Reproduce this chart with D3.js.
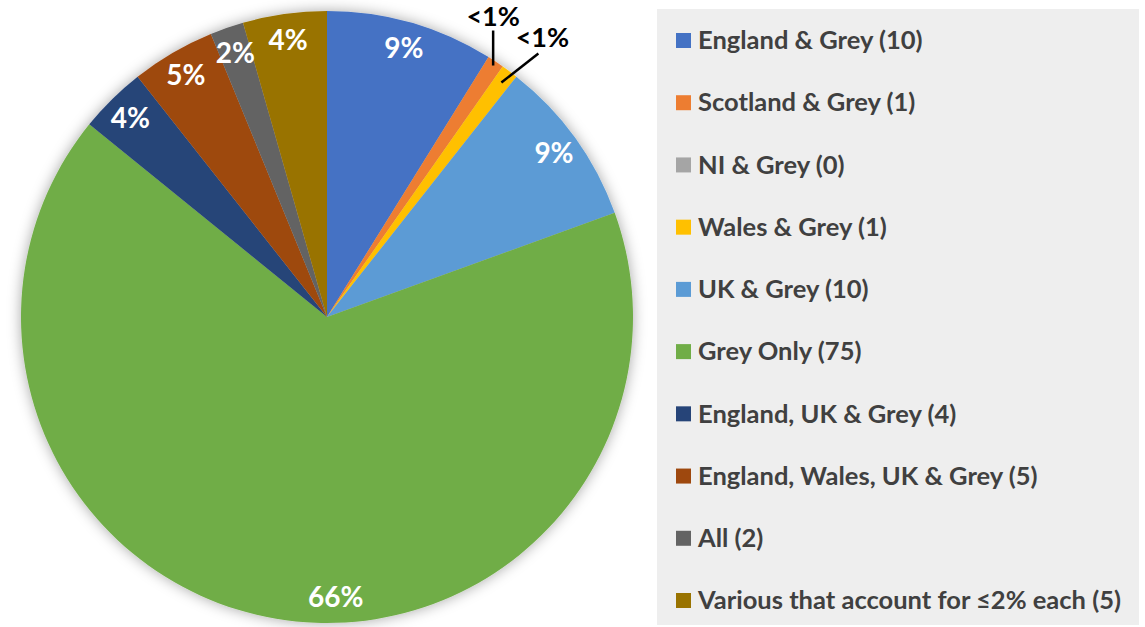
<!DOCTYPE html>
<html>
<head>
<meta charset="utf-8">
<script src="https://cdn.jsdelivr.net/npm/d3@7"></script>
<style>
  body { margin: 0; background: #ffffff; }
  svg { display: block; }
</style>
</head>
<body>
<div id="chart"></div>
<script>
// chart data
var categories = ["England & Grey", "Scotland & Grey", "NI & Grey", "Wales & Grey", "UK & Grey",
                  "Grey Only", "England, UK & Grey", "England, Wales, UK & Grey", "All",
                  "Various that account for \u22642% each"];
var counts = [10, 1, 0, 1, 10, 75, 4, 5, 2, 5];
var pctLabels = ["9%", "<1%", "", "<1%", "9%", "66%", "4%", "5%", "2%", "4%"];
var colors = ["#4472C4", "#ED7D31", "#A5A5A5", "#FFC000", "#5B9BD5",
              "#70AD47", "#264478", "#9E480E", "#636363", "#997300"];

function init() {
    var w = 1145, h = 627;
    var cx = 327, cy = 317, r = 306;
    var font = "Lato, 'Open Sans', sans-serif";

    var svg = d3.select("#chart").append("svg")
        .attr("width", w)
        .attr("height", h);

    // soft shadow round the pie
    var filter = svg.append("defs").append("filter")
        .attr("id", "shadow")
        .attr("x", "-10%").attr("y", "-10%")
        .attr("width", "120%").attr("height", "120%");
    filter.append("feDropShadow")
        .attr("dx", 0).attr("dy", 0)
        .attr("stdDeviation", 7)
        .attr("flood-color", "#000")
        .attr("flood-opacity", 0.35);

    var data = categories.map(function(c, i) {
        return { name: c, value: counts[i], label: pctLabels[i], color: colors[i] };
    });

    var pie = d3.pie()
        .sort(null)
        .value(function(d) { return d.value; });

    var arcs = pie(data);

    var arc = d3.arc().innerRadius(0).outerRadius(r);

    function polar(rad, ang) {
        return [rad * Math.sin(ang), -rad * Math.cos(ang)];
    }

    var g = svg.append("g")
        .attr("transform", "translate(" + cx + "," + cy + ")");

    g.append("g")
        .attr("filter", "url(#shadow)")
        .selectAll("path")
        .data(arcs)
        .enter().append("path")
        .attr("d", arc)
        .attr("fill", function(d) { return d.data.color; });

    // labels inside the slices (the big slice's label sits near the bottom, best fit)
    g.selectAll("text.inside")
        .data(arcs.filter(function(d) { return d.data.value >= 2; }))
        .enter().append("text")
        .attr("class", "inside")
        .attr("transform", function(d) {
            var mid = (d.startAngle + d.endAngle) / 2;
            if (d.endAngle - d.startAngle > Math.PI) mid = Math.PI * 0.99;
            var p = polar(r * 0.915, mid);
            return "translate(" + p + ")";
        })
        .attr("text-anchor", "middle")
        .attr("dy", "0.36em")
        .attr("fill", "#ffffff")
        .style("font-family", font)
        .style("font-weight", "bold")
        .style("font-size", "28px")
        .text(function(d) { return d.data.label; });

    // small slices: label outside with a leader line
    var small = arcs.filter(function(d) { return d.data.value > 0 && d.data.value < 2; });
    var leaderStart = [0.985, 0.955];           // fraction of radius
    var leaderVec = [[0, -35], [37, -29]];      // leader line direction
    var textOff = [[0, -5], [4, -7]];           // text baseline offset from leader end
    small.forEach(function(d, i) {
        var mid = (d.startAngle + d.endAngle) / 2;
        var p0 = polar(r * leaderStart[i], mid);
        var p1 = [p0[0] + leaderVec[i][0], p0[1] + leaderVec[i][1]];
        g.append("line")
            .attr("x1", p0[0]).attr("y1", p0[1])
            .attr("x2", p1[0]).attr("y2", p1[1])
            .attr("stroke", "#000")
            .attr("stroke-width", 2.5);
        g.append("text")
            .attr("x", p1[0] + textOff[i][0])
            .attr("y", p1[1] + textOff[i][1])
            .attr("text-anchor", "middle")
            .attr("fill", "#000")
            .style("font-family", font)
            .style("font-weight", "bold")
            .style("font-size", "27px")
            .text(d.data.label);
    });

    // legend
    var legendX = 657, legendY = 9, legendW = 482, legendH = 616;
    var legend = svg.append("g");
    legend.append("rect")
        .attr("x", legendX).attr("y", legendY)
        .attr("width", legendW).attr("height", legendH)
        .attr("fill", "#EEEEEE");

    var rowY = d3.scalePoint()
        .domain(categories)
        .range([40, 600]);

    var items = legend.selectAll("g.item")
        .data(data)
        .enter().append("g")
        .attr("class", "item")
        .attr("transform", function(d) { return "translate(676," + rowY(d.name) + ")"; });

    items.append("rect")
        .attr("x", 0).attr("y", -7)
        .attr("width", 15).attr("height", 15)
        .attr("fill", function(d) { return d.color; });

    items.append("text")
        .attr("x", 22)
        .attr("dy", "0.36em")
        .attr("fill", "#404040")
        .style("font-family", font)
        .style("font-weight", "bold")
        .style("font-size", "25.5px")
        .text(function(d) { return d.name + " (" + d.value + ")"; });
}

window.onload = init;
</script>
</body>
</html>
